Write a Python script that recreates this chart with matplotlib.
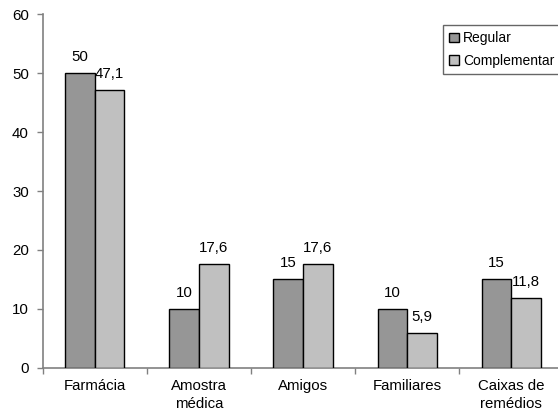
import matplotlib

matplotlib.use("Agg")
import matplotlib.pyplot as plt
import numpy as np

plt.rcParams["font.family"] = ["Liberation Sans", "DejaVu Sans"]
plt.rcParams["font.size"] = 10.8

categories = ["Farmácia", "Amostra\nmédica", "Amigos", "Familiares", "Caixas de\nremédios"]
regular = [50, 10, 15, 10, 15]
complementar = [47.1, 17.6, 17.6, 5.9, 11.8]
series_names = ["Regular", "Complementar"]
y_ticks = [0, 10, 20, 30, 40, 50, 60]

AXIS_GREY = "#808080"
colors = ["#969696", "#c0c0c0"]


def fmt(v):
    # decimal comma, no trailing ",0"
    s = f"{v:g}"
    return s.replace(".", ",")


fig = plt.figure(figsize=(5.58, 4.17), dpi=100)
# axes runs a little past the right edge of the figure
ax = fig.add_axes([0.0765, 0.1182, 0.9332, 0.8475])

x = np.arange(len(categories))
w = 0.285
for i, (vals, name) in enumerate(zip([regular, complementar], series_names)):
    b = ax.bar(x + (i - 0.5) * w, vals, width=w, color=colors[i],
               edgecolor="black", linewidth=1.0, label=name, zorder=3)
    for rect, v in zip(b, vals):
        ax.annotate(fmt(v), (rect.get_x() + rect.get_width() / 2, rect.get_height()),
                    xytext=(0, 6.5), textcoords="offset points",
                    ha="center", va="bottom")

ax.set_xlim(-0.5, len(categories) - 0.5)
ax.set_ylim(0, 60)
ax.set_yticks(y_ticks)
ax.set_yticklabels([str(t) for t in y_ticks])

# category ticks sit on the boundaries, labels in the middle
ax.set_xticks(np.arange(len(categories) + 1) - 0.5)
ax.set_xticklabels([])
ax.set_xticks(x, minor=True)
ax.set_xticklabels(categories, minor=True, linespacing=1.35)
ax.tick_params(axis="x", which="minor", length=0, pad=8)
ax.tick_params(axis="x", which="major", length=4, color=AXIS_GREY, width=1)
ax.tick_params(axis="y", length=4, color=AXIS_GREY, width=1, pad=6)

for side in ["top", "right"]:
    ax.spines[side].set_visible(False)
for side in ["left", "bottom"]:
    ax.spines[side].set_color(AXIS_GREY)
    ax.spines[side].set_linewidth(1.2)

leg = ax.legend(loc="upper left", bbox_to_anchor=(442.7 / 558, 1 - 25 / 417),
                bbox_transform=fig.transFigure, frameon=True, fancybox=False,
                fontsize=10, handlelength=0.7, handleheight=0.7, handletextpad=0.3,
                borderpad=0.45, labelspacing=0.6, borderaxespad=0)
leg.get_frame().set_edgecolor("#404040")
leg.get_frame().set_linewidth(1.0)

fig.savefig("out.png", dpi=100)
plt.close(fig)
